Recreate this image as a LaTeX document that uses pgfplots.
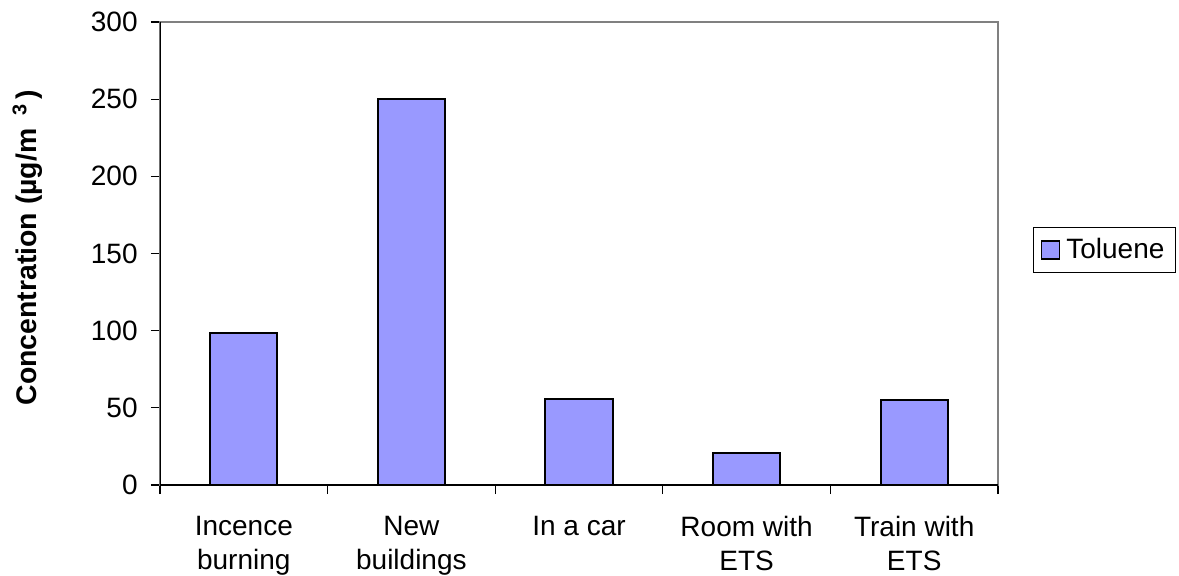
\documentclass[border=0pt]{standalone}
\usepackage{pgfplots}
\pgfplotsset{compat=1.18}
\usepackage{fontspec}
\setmainfont{Liberation Sans}
\definecolor{barblue}{HTML}{9999FF}
\begin{document}
\fontsize{14}{17}\selectfont
\begin{tikzpicture}
\useasboundingbox (-80pt,-45pt) rectangle (509.5pt,242.5pt);
\begin{axis}[
  at={(0,0)}, anchor=south west,
  scale only axis, width=419pt, height=231.5pt,
  xmin=-0.5, xmax=4.5, ymin=0, ymax=300,
  ytick={0,50,100,150,200,250,300},
  yticklabels={0,50,100,150,200,250,300},
  xtick={0,...,4},
  xtick pos=lower, ytick pos=left,
  xticklabels={{Incence\\burning},{New\\buildings},{In a car},{Room with\\ETS},{Train with\\ETS}},
  xticklabel style={align=center, font=\fontsize{14}{17}\selectfont, yshift=-6pt},
  yticklabel style={font=\fontsize{14}{17}\selectfont, inner xsep=6.5pt},
  major x tick style={draw=none},
  minor xtick={-0.5,0.5,...,4.5},
  tick align=outside,
  major tick length=4.5pt, minor tick length=4.5pt,
  axis line style={draw=gray, line width=0.8pt},
  tick style={black, line width=0.6pt},
  ylabel={Concentration (µg/m\,\ \textsuperscript{3}\,)},
  ylabel style={at={(axis description cs:-0.158,0.513)}, anchor=center, font=\bfseries\fontsize{14.2}{17}\selectfont},
  legend style={at={(1.0418,0.5076)}, anchor=west, draw=black, line width=0.5pt, font=\fontsize{14}{17}\selectfont, inner xsep=3.5pt, inner ysep=3pt},
  legend image code/.code={\draw[#1, line width=0.8pt] (0pt,-4.5pt) rectangle (9pt,4.5pt); \path[draw=none] (0pt,0pt) (10.5pt,0pt);},
]
\draw[black, line width=0.8pt] (axis cs:-0.5,300) -- (axis cs:-0.5,0) -- (axis cs:4.5,0);
\addplot[ybar, bar width=0.4, fill=barblue, draw=black, line width=1pt] coordinates {(0,98.5) (1,250) (2,55.5) (3,21) (4,55)};
\addlegendentry{Toluene}
\end{axis}
\end{tikzpicture}
\end{document}
